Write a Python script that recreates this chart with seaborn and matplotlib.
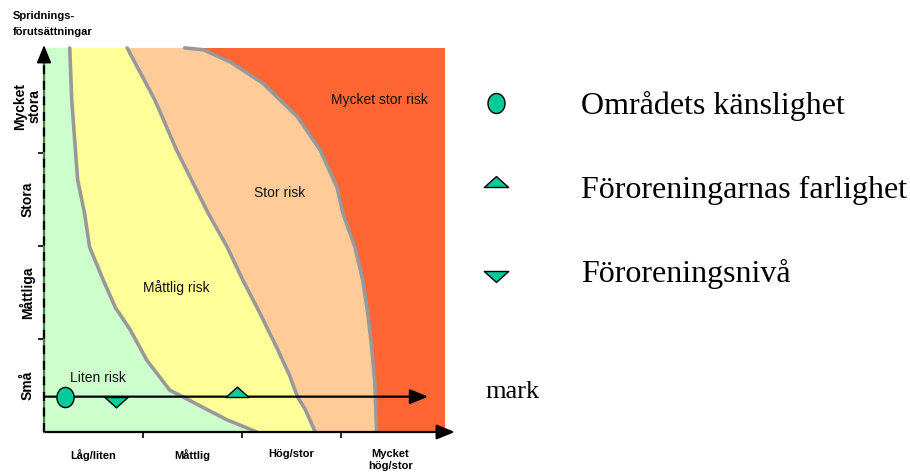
import numpy as np
import pandas as pd
import matplotlib
matplotlib.use("Agg")
import matplotlib.pyplot as plt
from matplotlib.path import Path
from matplotlib.lines import Line2D
import seaborn as sns

# ---------------- data ----------------
x_categories = ["Låg/liten", "Måttlig", "Hög/stor", "Mycket\nhög/stor"]
y_categories = ["Små", "Måttliga", "Stora", "Mycket\nstora"]
y_title = "Spridnings-\nförutsättningar"

# boundary curves (x, y) from top to bottom
b1_x = [0.26, 0.28, 0.34, 0.41, 0.46, 0.60, 0.72, 0.87, 1.04, 1.27, 1.40, 1.65, 1.85, 2.15]
b1_y = [4.13, 3.57, 2.71, 2.35, 1.99, 1.63, 1.34, 1.10, 0.77, 0.45, 0.38, 0.24, 0.13, 0.00]
b2_x = [0.84, 1.12, 1.34, 1.49, 1.66, 1.85, 2.01, 2.18, 2.35, 2.48, 2.56, 2.64, 2.74]
b2_y = [4.13, 3.57, 3.03, 2.71, 2.35, 1.99, 1.63, 1.28, 0.91, 0.61, 0.38, 0.24, 0.00]
b3_x = [1.42, 1.61, 1.88, 2.21, 2.56, 2.79, 2.96, 3.02, 3.14, 3.22, 3.27, 3.31, 3.34, 3.36]
b3_y = [4.13, 4.11, 3.98, 3.75, 3.39, 3.03, 2.63, 2.35, 1.99, 1.63, 1.28, 0.91, 0.56, 0.00]
x_max = 4.05
y_max = 4.13

risk_labels = ["Liten risk", "Måttlig risk", "Stor risk", "Mycket stor risk"]
risk_label_x = [0.54, 1.34, 2.38, 3.39]
risk_label_y = [0.58, 1.55, 2.57, 3.57]
risk_colors = ["#CCFFCC", "#FFFF99", "#FFCC99", "#FF6633"]

mark_y = 0.38
mark_end = 3.88
kanslighet_x = 0.21
farlighet_x = 1.95
niva_x = 0.73

legend_labels = ["Områdets känslighet", "Föroreningarnas farlighet", "Föroreningsnivå"]
mark_label = "mark"

# ---------------- style ----------------
sns.set_style("white")
plt.rcParams["font.family"] = ["Liberation Sans", "DejaVu Sans"]
plt.rcParams["text.color"] = "black"
plt.rcParams["xtick.color"] = "black"
plt.rcParams["ytick.color"] = "black"

fig = plt.figure(figsize=(9.1, 4.75), dpi=100)
ax = fig.add_axes([44 / 910, 43 / 475, 4.2 * 99 / 910, 4.3 * 93 / 475])
ax.set_xlim(0, 4.2)
ax.set_ylim(0, 4.3)
for s in ax.spines.values():
    s.set_visible(False)
ax.patch.set_alpha(0)

# regions
ax.fill([0, x_max, x_max, 0], [0, 0, y_max, y_max], color=risk_colors[3], lw=0, zorder=1)
for bx, by, col in [(b3_x, b3_y, risk_colors[2]), (b2_x, b2_y, risk_colors[1]),
                    (b1_x, b1_y, risk_colors[0])]:
    ax.fill([0] + bx + [0], [y_max] + by + [0], color=col, lw=0, zorder=1)

# boundaries
for bx, by in [(b1_x, b1_y), (b2_x, b2_y), (b3_x, b3_y)]:
    df = pd.DataFrame({"x": bx, "y": by})
    sns.lineplot(data=df, x="x", y="y", sort=False, estimator=None, ax=ax,
                 color="#999999", lw=2.6, zorder=2)

# region labels
for t, x, y in zip(risk_labels, risk_label_x, risk_label_y):
    ax.text(x, y, t, ha="center", va="center", fontsize=10, color="#111111", zorder=5)

# axes arrows
ax.annotate("", xy=(4.15, 0), xytext=(0, 0), xycoords="data",
            arrowprops=dict(arrowstyle="-|>,head_length=1.1,head_width=0.45",
                            mutation_scale=10, lw=1.6, color="black", shrinkA=0, shrinkB=0),
            annotation_clip=False, zorder=6)
ax.plot([0, 0], [0, 4.05], color="#4a7a4a", lw=1.6, zorder=6, clip_on=False)
ax.plot([0, 0], [0, 4.05], color="black", lw=1.6, ls=(0, (4, 3)), zorder=6, clip_on=False)
ax.annotate("", xy=(0, 4.16), xytext=(0, 4.0), xycoords="data",
            arrowprops=dict(arrowstyle="-|>,head_length=1.1,head_width=0.45",
                            mutation_scale=10, lw=1.2, color="black", shrinkA=0, shrinkB=0),
            annotation_clip=False, zorder=6)

# mark arrow
ax.annotate("", xy=(mark_end, mark_y), xytext=(0, mark_y), xycoords="data",
            arrowprops=dict(arrowstyle="-|>,head_length=1.1,head_width=0.45",
                            mutation_scale=10, lw=1.6, color="black", shrinkA=0, shrinkB=0),
            zorder=6)

# marker shapes
t = np.linspace(0, 2 * np.pi, 60)
ellipse = Path(np.column_stack([0.85 * np.cos(t), np.sin(t)]), closed=True)
tri_up = Path([(-1, 0), (1, 0), (0, 0.9), (-1, 0)], closed=True)
tri_dn = Path([(-1, 0), (1, 0), (0, -0.9), (-1, 0)], closed=True)

teal = "#00CC99"
for xv, mk, sz in [(kanslighet_x, ellipse, 210), (niva_x, tri_dn, 275), (farlighet_x, tri_up, 275)]:
    sns.scatterplot(x=[xv], y=[mark_y], marker=mk, s=sz, color=teal, edgecolor="black",
                    linewidth=1.0, ax=ax, zorder=7, legend=False)

# ticks
ax.set_xticks([1, 2, 3])
ax.set_xticklabels([])
ax.set_yticks([1, 2, 3])
ax.set_yticklabels([])
ax.set_xticks([0.5, 1.5, 2.5, 3.5], minor=True)
ax.set_xticklabels(x_categories, minor=True, fontsize=8, fontweight="bold", linespacing=1.3)
ax.set_yticks([0.5, 1.5, 2.5, 3.5], minor=True)
ax.set_yticklabels(y_categories, minor=True, fontsize=10, fontweight="bold", rotation=90,
                   va="center", ha="center", linespacing=1.0)
ax.tick_params(axis="both", which="major", direction="inout", length=9, width=1.2,
               color="black", bottom=True, left=True)
ax.tick_params(axis="x", which="minor", length=0, pad=12, bottom=True)
ax.tick_params(axis="y", which="minor", length=0, pad=12, left=True)
ax.set_xlabel("")
ax.set_ylabel("")

# y title
fig.text(13 / 910, 1 - 11 / 475, y_title, ha="left", va="top", fontsize=8,
         fontweight="bold", linespacing=1.7)

# legend
handles = [
    Line2D([], [], ls="none", marker=ellipse, markersize=14.4, markerfacecolor=teal,
           markeredgecolor="black", markeredgewidth=1.0),
    Line2D([], [], ls="none", marker=tri_up, markersize=17.5, markerfacecolor=teal,
           markeredgecolor="black", markeredgewidth=1.0),
    Line2D([], [], ls="none", marker=tri_dn, markersize=17.5, markerfacecolor=teal,
           markeredgecolor="black", markeredgewidth=1.0),
]
fig.legend(handles, legend_labels, loc="upper left", bbox_to_anchor=(480 / 910, 1 - 91 / 475),
           frameon=False, prop={"family": "Liberation Serif", "size": 23},
           handlelength=1.0, handletextpad=2.15, labelspacing=1.7, borderpad=0,
           borderaxespad=0, labelcolor="black")

fig.text(485 / 910, 1 - 398 / 475, mark_label, ha="left", va="baseline", fontsize=19,
         family="Liberation Serif", color="black")

fig.savefig("out.png", dpi=100)
